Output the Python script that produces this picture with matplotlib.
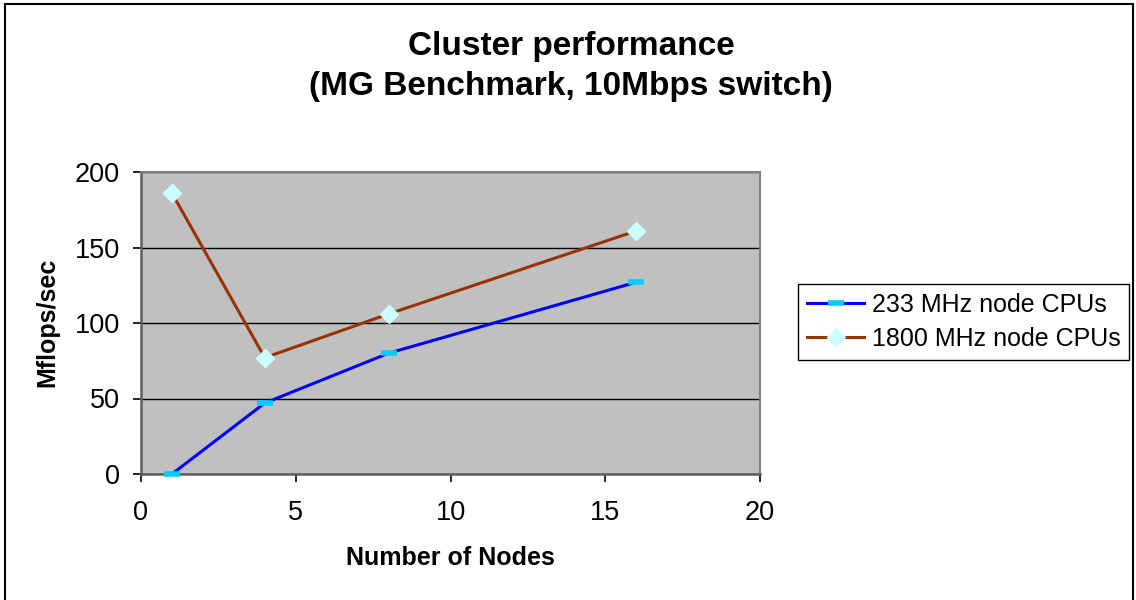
import matplotlib
matplotlib.use("Agg")
import matplotlib.pyplot as plt
from matplotlib.patches import Rectangle

plt.rcParams['font.family'] = ['Liberation Sans', 'DejaVu Sans']

nodes = [1, 4, 8, 16]
mflops_233 = [0, 47, 80, 127]
mflops_1800 = [186, 77, 106, 161]
series_labels = ["233 MHz node CPUs", "1800 MHz node CPUs"]
title_text = "Cluster performance\n(MG Benchmark, 10Mbps switch)"
xlabel_text = "Number of Nodes"
ylabel_text = "Mflops/sec"
xticks = [0, 5, 10, 15, 20]
yticks = [0, 50, 100, 150, 200]

W, H = 1136, 600
fig = plt.figure(figsize=(W / 100, H / 100), dpi=100)
fig.patch.set_facecolor('white')

# outer chart border
fig.patches.append(Rectangle((5 / W, -0.01), 1128 / W, (600 - 4) / H + 0.01,
                             transform=fig.transFigure, fill=False,
                             edgecolor='black', linewidth=1.5))

ax = fig.add_axes([141 / W, (600 - 474) / H, (760 - 141) / W, (474 - 172) / H])
ax.set_facecolor('#C0C0C0')
ax.set_xlim(0, 20)
ax.set_ylim(0, 200)
ax.set_xticks(xticks)
ax.set_yticks(yticks)
ax.tick_params(axis='both', labelsize=19.5, direction='out', length=6, width=1.2,
               color='black')
ax.tick_params(axis='x', pad=13)
ax.tick_params(axis='y', pad=9)
for s in ['top', 'right']:
    ax.spines[s].set_color('#808080')
    ax.spines[s].set_linewidth(1.5)
for s in ['left', 'bottom']:
    ax.spines[s].set_color('#606060')
    ax.spines[s].set_linewidth(1.8)
ax.yaxis.grid(True, color='black', linewidth=1.0)
ax.set_axisbelow(True)

ax.plot(nodes, mflops_233, color='#0000FF', linewidth=2.2, marker='_',
        markersize=11, markeredgewidth=4, markeredgecolor='#00CCFF',
        label=series_labels[0], zorder=3, clip_on=False)
ax.plot(nodes, mflops_1800, color='#993300', linewidth=2.2, marker='D',
        markersize=9.5, markerfacecolor='#CCFFFF', markeredgecolor='#CCFFFF',
        label=series_labels[1], zorder=3, clip_on=False)

fig.text(571 / W, 1 - 66.5 / H, title_text, ha='center', va='center',
         fontsize=24, fontweight='bold', linespacing=1.38)
fig.text(450 / W, 1 - 558 / H, xlabel_text, ha='center', va='center',
         fontsize=18, fontweight='bold')
fig.text(47 / W, 1 - 322 / H, ylabel_text, ha='center', va='center',
         fontsize=18, fontweight='bold', rotation=90)

leg = ax.legend(loc='center left', bbox_to_anchor=(798 / W, 1 - 322 / H),
                bbox_transform=fig.transFigure, fontsize=18, frameon=True,
                fancybox=False, edgecolor='black', framealpha=1,
                handlelength=2.3, handletextpad=0.3, borderpad=0.35,
                labelspacing=0.4, borderaxespad=0)
leg.get_frame().set_linewidth(1.0)

fig.savefig('out.png', dpi=100, facecolor='white')
